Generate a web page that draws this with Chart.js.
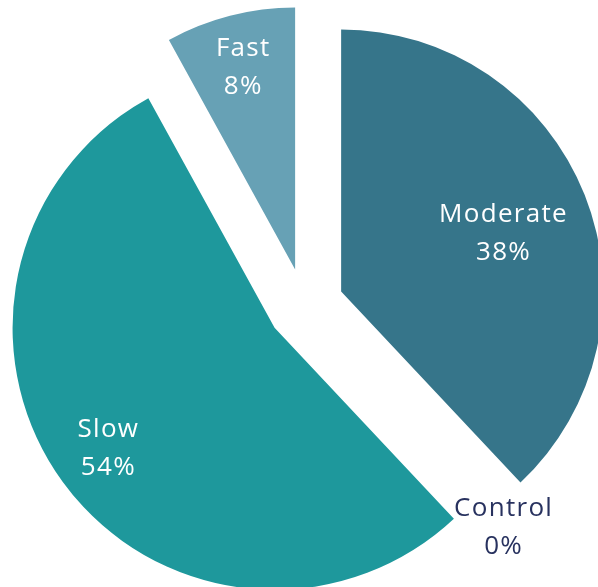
<!DOCTYPE html>
<html>
<head>
<meta charset="utf-8">
<title>Speed groups</title>
<script src="https://cdn.jsdelivr.net/npm/chart.js@4"></script>
<style>
  html, body { margin: 0; padding: 0; background: #fff; overflow: hidden; }
  canvas { display: block; }
</style>
</head>
<body>
<canvas id="pie" width="598" height="587"></canvas>
<script>
// slices go clockwise from 12 o'clock
const categories = ['Moderate', 'Control', 'Slow', 'Fast'];
const shares = [38, 0, 54, 8];

const sliceColors = ['#36758A', '#2B7F8E', '#1E989C', '#67A1B5'];
const labelColors = ['#ffffff', '#28325F', '#ffffff', '#ffffff'];
// px each slice is pulled away from the centre (same radius for all)
const explode = [39.4, 0, 37, 37.7];
// label distance from the slice tip, as a share of the radius
const labelRadii = [0.658, 1.138, 0.784, 0.796];
// small clockwise turn (degrees) off the slice's mid-angle for its label
const labelTurns = [2, 1.3, 0, 0];

// pulls slices apart without growing them (Chart.js' own offset also enlarges the arc)
const pullApart = {
  id: 'pullApart',
  afterUpdate(chart) {
    const area = chart.chartArea;
    const cx = (area.left + area.right) / 2;
    const cy = (area.top + area.bottom) / 2;
    chart.getDatasetMeta(0).data.forEach((arc, i) => {
      const mid = (arc.startAngle + arc.endAngle) / 2;
      arc.x = cx + Math.cos(mid) * explode[i];
      arc.y = cy + Math.sin(mid) * explode[i];
    });
  }
};

// writes "Name" over "NN%" inside (or beside) every slice
const sliceLabels = {
  id: 'sliceLabels',
  afterDatasetsDraw(chart, args, opts) {
    const ctx = chart.ctx;
    ctx.save();
    ctx.font = opts.font;
    ctx.letterSpacing = opts.letterSpacing;
    ctx.textAlign = 'center';
    ctx.textBaseline = 'middle';
    chart.getDatasetMeta(0).data.forEach((arc, i) => {
      const angle = (arc.startAngle + arc.endAngle) / 2 + labelTurns[i] * Math.PI / 180;
      const r = labelRadii[i] * arc.outerRadius;
      const lx = arc.x + Math.cos(angle) * r;
      const ly = arc.y + Math.sin(angle) * r;
      ctx.fillStyle = labelColors[i];
      ctx.fillText(categories[i], lx, ly - opts.lineGap / 2);
      ctx.fillText(shares[i] + '%', lx, ly + opts.lineGap / 2);
    });
    ctx.restore();
  }
};

new Chart(document.getElementById('pie'), {
  type: 'pie',
  data: {
    labels: categories,
    datasets: [{
      data: shares,
      backgroundColor: sliceColors,
      borderWidth: 0,
      clip: false
    }]
  },
  options: {
    responsive: false,
    animation: false,
    radius: 262,
    layout: { padding: { left: 11, top: 25 } },
    plugins: {
      legend: { display: false },
      tooltip: { enabled: false },
      sliceLabels: { font: '400 26px "Open Sans"', letterSpacing: '1.3px', lineGap: 38 }
    }
  },
  plugins: [pullApart, sliceLabels]
});
</script>
</body>
</html>
